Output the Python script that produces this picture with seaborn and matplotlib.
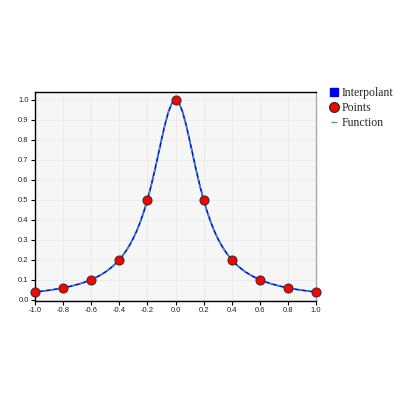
import numpy as np
import pandas as pd
import matplotlib
matplotlib.use("Agg")
import matplotlib.pyplot as plt
import seaborn as sns
from matplotlib.lines import Line2D

# sample points
point_x = [-1.0, -0.8, -0.6, -0.4, -0.2, 0.0, 0.2, 0.4, 0.6, 0.8, 1.0]
point_y = [0.0385, 0.0588, 0.1, 0.2, 0.5, 1.0, 0.5, 0.2, 0.1, 0.0588, 0.0385]

# curve values read at steps of 0.025 from -1 to 1
curve_y = [0.0385, 0.0404, 0.0424, 0.0447, 0.0471, 0.0497, 0.0525, 0.0555, 0.0588,
           0.0624, 0.0664, 0.0707, 0.0755, 0.0807, 0.0865, 0.0929, 0.1000, 0.1079,
           0.1168, 0.1267, 0.1379, 0.1506, 0.1649, 0.1813, 0.2000, 0.2215, 0.2462,
           0.2747, 0.3077, 0.3459, 0.3902, 0.4414, 0.5000, 0.5664, 0.6400, 0.7191,
           0.8000, 0.8767, 0.9412, 0.9846, 1.0000, 0.9846, 0.9412, 0.8767, 0.8000,
           0.7191, 0.6400, 0.5664, 0.5000, 0.4414, 0.3902, 0.3459, 0.3077, 0.2747,
           0.2462, 0.2215, 0.2000, 0.1813, 0.1649, 0.1506, 0.1379, 0.1267, 0.1168,
           0.1079, 0.1000, 0.0929, 0.0865, 0.0807, 0.0755, 0.0707, 0.0664, 0.0624,
           0.0588, 0.0555, 0.0525, 0.0497, 0.0471, 0.0447, 0.0424, 0.0404, 0.0385]
curve_x = np.linspace(-1, 1, len(curve_y))

x_ticks = [-1.0, -0.8, -0.6, -0.4, -0.2, 0.0, 0.2, 0.4, 0.6, 0.8, 1.0]
y_ticks = [0.0, 0.1, 0.2, 0.3, 0.4, 0.5, 0.6, 0.7, 0.8, 0.9, 1.0]

curve = pd.DataFrame({"x": curve_x, "y": curve_y})
pts = pd.DataFrame({"x": point_x, "y": point_y})

sns.set_style("white")
plt.rcParams["font.family"] = ["Liberation Sans", "DejaVu Sans"]

fig = plt.figure(figsize=(4, 4), dpi=100)
ax = fig.add_axes([0.0875, 0.2475, 0.7025, 0.5225])
ax.set_facecolor("#f6f6f6")

sns.lineplot(data=curve, x="x", y="y", ax=ax, color="#0000ff", linewidth=1.2)
sns.lineplot(data=curve, x="x", y="y", ax=ax, color="#3cb371", linewidth=0.9,
             linestyle=(0, (3, 3)))
sns.scatterplot(data=pts, x="x", y="y", ax=ax, color="#ff0000", edgecolor="#333333",
                linewidth=0.8, s=42, zorder=5, clip_on=False)

ax.set_xlim(-1, 1)
ax.set_ylim(-0.007, 1.04)
ax.set_xticks(x_ticks)
ax.set_yticks(y_ticks)
ax.set_xticklabels([f"{v:.1f}" for v in x_ticks])
ax.set_yticklabels([f"{v:.1f}" for v in y_ticks])
ax.tick_params(labelsize=5.5, length=3, width=0.8, color="black", pad=1.5,
               left=True, bottom=True, labelcolor="#222222")
ax.grid(True, color="#e9e9e9", linewidth=0.6)
ax.set_xlabel("")
ax.set_ylabel("")

ax.spines["left"].set_color("black")
ax.spines["bottom"].set_color("black")
ax.spines["top"].set_color("black")
ax.spines["right"].set_color("#aaaaaa")
for s in ax.spines.values():
    s.set_linewidth(1.0)

handles = [
    Line2D([], [], marker="s", color="#0000ff", linestyle="none", markersize=6),
    Line2D([], [], marker="o", color="#ff0000", markeredgecolor="#333333",
           linestyle="none", markersize=7),
    Line2D([], [], marker="_", color="#3cb371", linestyle="none", markersize=4,
           markeredgewidth=1.0),
]
fig.legend(handles, ["Interpolant", "Points", "Function"],
           loc="upper left", bbox_to_anchor=(0.822, 0.782), frameon=False,
           prop={"family": "Liberation Serif", "size": 8.5},
           handlelength=0.8, handletextpad=0.3, labelspacing=0.25,
           borderaxespad=0, borderpad=0)

fig.savefig("out.png", dpi=100)
